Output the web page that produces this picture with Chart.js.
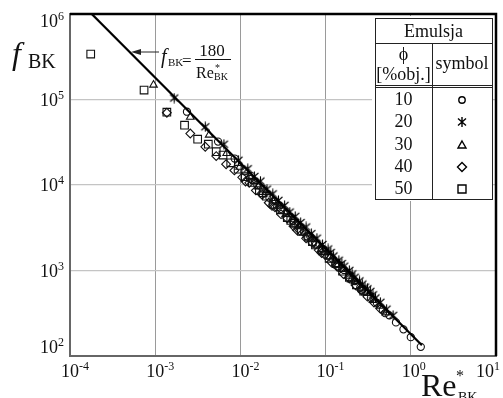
<!DOCTYPE html>
<html>
<head>
<meta charset="utf-8">
<script src="https://cdn.jsdelivr.net/npm/chart.js@4/dist/chart.umd.min.js"></script>
<style>
html, body { margin: 0; padding: 0; background: #fff; }
canvas { display: block; }
</style>
</head>
<body>
<canvas id="chart" width="503" height="398"></canvas>
<script>
// Tick decades
const X_TICKS = [1e-4, 1e-3, 1e-2, 1e-1, 1e0, 1e1];
const Y_TICKS = [1e2, 1e3, 1e4, 1e5, 1e6];

// Correlation line f = 180 / Re (end points)
const lineRe = [1.8e-4, 1.35];
const lineF = [1e6, 133.3];

// phi = 10 %obj. (circles)
const re10 = [0.00236, 0.00547, 0.00857, 0.0112, 0.0135, 0.0158, 0.0186, 0.0219, 0.0255, 0.0298,
    0.035, 0.041, 0.048, 0.056, 0.066, 0.077, 0.09, 0.105, 0.122, 0.142, 0.165, 0.19, 0.22,
    0.255, 0.295, 0.34, 0.4, 0.47, 0.56, 0.67, 0.82, 1.0, 1.31,
    0.013, 0.027, 0.06, 0.13, 0.26, 0.5];
const f10 = [72000, 32200, 20400, 14500, 12700, 10000, 9000, 7070, 6490, 5250,
    4780, 3780, 3410, 2800, 2510, 2010, 1820, 1490, 1360, 1115, 1015, 834, 753,
    628, 567, 476, 419, 348, 299, 247, 205, 166, 128,
    11770, 5530, 2520, 1177, 595, 317];

// phi = 20 %obj. (asterisks)
const re20 = [0.00167, 0.00387, 0.0064, 0.0095, 0.0122, 0.0146, 0.0172, 0.0205, 0.024, 0.028,
    0.033, 0.038, 0.044, 0.051, 0.059, 0.068, 0.079, 0.092, 0.107, 0.115, 0.124, 0.143, 0.155,
    0.165, 0.19, 0.205, 0.22, 0.25, 0.27, 0.29, 0.31, 0.335, 0.36, 0.385, 0.44, 0.52, 0.62];
const f20 = [104000, 48000, 30000, 19500, 15500, 12600, 11100, 8960, 7880, 6620,
    5780, 4830, 4300, 3640, 3230, 2700, 2390, 2015, 1785, 1628, 1480, 1320, 1208,
    1124, 1005, 913, 835, 756, 693, 640, 610, 570, 520, 477, 425, 353, 299];

// phi = 30 %obj. (triangles)
const re30 = [0.000955, 0.00258, 0.0043, 0.0069, 0.0098, 0.0128, 0.0162, 0.0198, 0.024, 0.0285,
    0.034, 0.0405, 0.048, 0.057, 0.068, 0.081, 0.096, 0.113, 0.134, 0.158, 0.186, 0.22,
    0.26, 0.305, 0.36, 0.43, 0.51, 0.0145, 0.044, 0.088, 0.2];
const f30 = [148000, 62400, 38500, 23500, 16200, 12700, 9560, 8180, 6530, 5680,
    4550, 4000, 3260, 2840, 2300, 2000, 1650, 1450, 1180, 1037, 861, 745,
    623, 543, 450, 385, 321, 11000, 3500, 1750, 780];

// phi = 40 %obj. (diamonds)
const re40 = [0.00137, 0.00258, 0.00387, 0.0052, 0.0068, 0.0085, 0.0105, 0.0127, 0.0152, 0.018,
    0.0215, 0.0255, 0.03, 0.0355, 0.042, 0.05, 0.059, 0.07, 0.083, 0.098, 0.116, 0.137,
    0.162, 0.19, 0.225, 0.265, 0.31, 0.37, 0.44, 0.0115, 0.0235, 0.046, 0.09];
const f40 = [70000, 40000, 28000, 21800, 17500, 14800, 12300, 10600, 8640, 7700,
    6200, 5500, 4560, 4060, 3300, 2920, 2380, 2110, 1735, 1525, 1257, 1104,
    911, 805, 672, 584, 494, 423, 356, 11000, 5700, 2980, 1600];

// phi = 50 %obj. (squares)
const re50 = [0.000175, 0.00074, 0.00137, 0.00221, 0.00315, 0.0042, 0.0052, 0.00625, 0.0077, 0.0094,
    0.0114, 0.0138, 0.0167, 0.0202, 0.0245, 0.0295, 0.0355, 0.043, 0.052, 0.063, 0.076,
    0.092, 0.11, 0.132, 0.158, 0.19, 0.23, 0.28, 0.0185, 0.039, 0.07];
const f50 = [340000, 129000, 71000, 50000, 34300, 30000, 24500, 22400, 18200, 15300,
    12500, 10700, 8620, 7400, 5950, 5130, 4160, 3560, 2870, 2460, 1990,
    1700, 1390, 1200, 980, 833, 681, 572, 8100, 3850, 2180];

const SERIF = "'Liberation Serif', 'DejaVu Serif', serif";

function pairs(xs, ys) {
    return xs.map(function (x, i) { return { x: x, y: ys[i] }; });
}

// asterisk marker: vertical bar plus an X
function asteriskImage() {
    var c = document.createElement('canvas');
    c.width = 11; c.height = 11;
    var g = c.getContext('2d');
    g.strokeStyle = '#000';
    g.lineWidth = 1.1;
    g.beginPath();
    g.moveTo(5.5, 0.5); g.lineTo(5.5, 10.5);
    g.moveTo(1.5, 2); g.lineTo(9.5, 9);
    g.moveTo(1.5, 9); g.lineTo(9.5, 2);
    g.stroke();
    return c;
}
const ASTERISK = asteriskImage();

function markerSet(label, data, style, radius) {
    return {
        type: 'scatter',
        label: label,
        data: data,
        pointStyle: style,
        pointRadius: radius,
        pointHoverRadius: radius,
        borderColor: '#111',
        backgroundColor: 'rgba(0,0,0,0)',
        pointBorderWidth: 1.1,
        showLine: false
    };
}

// draw "10" with a superscript exponent
function drawPow(ctx, x, y, exp, align) {
    ctx.font = '18px ' + SERIF;
    var wb = ctx.measureText('10').width;
    ctx.font = '12px ' + SERIF;
    var we = ctx.measureText(exp).width;
    var left = x;
    if (align === 'right') left = x - wb - we;
    ctx.fillStyle = '#111';
    ctx.textBaseline = 'alphabetic';
    ctx.textAlign = 'left';
    ctx.font = '18px ' + SERIF;
    ctx.fillText('10', left, y);
    ctx.font = '12px ' + SERIF;
    ctx.fillText(exp, left + wb, y - 7);
}

function drawMarker(ctx, style, x, y) {
    ctx.save();
    ctx.strokeStyle = '#000';
    ctx.lineWidth = 1.4;
    ctx.beginPath();
    if (style === 'circle') {
        ctx.arc(x, y, 3.2, 0, Math.PI * 2);
    } else if (style === 'triangle') {
        ctx.moveTo(x, y - 4); ctx.lineTo(x + 4, y + 3); ctx.lineTo(x - 4, y + 3); ctx.closePath();
    } else if (style === 'rectRot') {
        ctx.moveTo(x, y - 4.5); ctx.lineTo(x + 4.5, y); ctx.lineTo(x, y + 4.5); ctx.lineTo(x - 4.5, y); ctx.closePath();
    } else if (style === 'rect') {
        ctx.rect(x - 4, y - 4, 8, 8);
    } else {
        ctx.moveTo(x, y - 5); ctx.lineTo(x, y + 5);
        ctx.moveTo(x - 4, y - 3.5); ctx.lineTo(x + 4, y + 3.5);
        ctx.moveTo(x - 4, y + 3.5); ctx.lineTo(x + 4, y - 3.5);
    }
    ctx.stroke();
    ctx.restore();
}

const decorations = {
    id: 'decorations',
    afterDraw: function (chart) {
        var ctx = chart.ctx;
        var a = chart.chartArea;
        var xs = chart.scales.x, ys = chart.scales.y;
        ctx.save();

        // thick top and right frame
        ctx.strokeStyle = '#000';
        ctx.lineWidth = 2.5;
        ctx.beginPath();
        ctx.moveTo(a.left, a.top); ctx.lineTo(a.right, a.top); ctx.lineTo(a.right, a.bottom);
        ctx.stroke();

        // x tick labels
        X_TICKS.forEach(function (v, i) {
            var px = xs.getPixelForValue(v);
            var e = String(Math.round(Math.log10(v)));
            var x0 = px - 9;
            if (i === X_TICKS.length - 1) x0 = px - 20;
            drawPow(ctx, x0, 377, e, 'left');
        });

        // y tick labels
        Y_TICKS.forEach(function (v, i) {
            var py = ys.getPixelForValue(v);
            var e = String(Math.round(Math.log10(v)));
            var yy = py + 6;
            if (i === 0) yy = py - 3;
            if (i === Y_TICKS.length - 1) yy = py + 13;
            drawPow(ctx, 64, yy, e, 'right');
        });

        // y axis title
        ctx.fillStyle = '#111';
        ctx.textAlign = 'left';
        ctx.font = 'italic 32px ' + SERIF;
        ctx.fillText('f', 12, 64);
        ctx.font = '20px ' + SERIF;
        ctx.fillText('BK', 28, 68);

        // x axis title
        ctx.font = '32px ' + SERIF;
        ctx.fillText('Re', 421, 396);
        ctx.font = '16px ' + SERIF;
        ctx.fillText('*', 456, 381);
        ctx.font = '14px ' + SERIF;
        ctx.fillText('BK', 458, 402);

        // annotation: arrow + formula
        ctx.strokeStyle = '#222';
        ctx.lineWidth = 1;
        ctx.beginPath();
        ctx.moveTo(159, 52); ctx.lineTo(138, 52);
        ctx.stroke();
        ctx.fillStyle = '#222';
        ctx.beginPath();
        ctx.moveTo(131, 52); ctx.lineTo(141, 49); ctx.lineTo(141, 55); ctx.closePath();
        ctx.fill();
        ctx.fillStyle = '#111';
        ctx.font = 'italic 20px ' + SERIF;
        ctx.fillText('f', 161, 63);
        ctx.font = '11px ' + SERIF;
        ctx.fillText('BK', 168, 66);
        ctx.font = '17px ' + SERIF;
        ctx.fillText('=', 182, 66);
        ctx.textAlign = 'center';
        ctx.fillText('180', 212, 56);
        ctx.fillRect(195, 59, 36, 1);
        ctx.textAlign = 'left';
        ctx.font = '16px ' + SERIF;
        ctx.fillText('Re', 196, 78);
        ctx.font = '10px ' + SERIF;
        ctx.fillText('*', 215, 71);
        ctx.fillText('BK', 214, 80);

        // legend table
        var L = 375, R = 492, T = 18, B = 199, C = 432;
        ctx.fillStyle = '#fff';
        ctx.fillRect(L - 3, T - 2, R - L + 3, B - T + 4);
        ctx.strokeStyle = '#222';
        ctx.lineWidth = 1;
        ctx.strokeRect(L + 0.5, T + 0.5, R - L, B - T);
        ctx.beginPath();
        ctx.moveTo(L, 43.5); ctx.lineTo(R, 43.5);
        ctx.moveTo(L, 85.5); ctx.lineTo(R, 85.5);
        ctx.moveTo(L, 87.5); ctx.lineTo(R, 87.5);
        ctx.moveTo(C + 0.5, 43.5); ctx.lineTo(C + 0.5, B);
        ctx.stroke();

        ctx.fillStyle = '#111';
        ctx.textAlign = 'center';
        ctx.font = '18px ' + SERIF;
        ctx.fillText('Emulsja', (L + R) / 2, 37);
        ctx.fillText('\u03D5', (L + C) / 2, 60);
        ctx.fillText('[%obj.]', (L + C) / 2, 80);
        ctx.fillText('symbol', (C + R) / 2, 69);

        var rows = ['10', '20', '30', '40', '50'];
        var styles = ['circle', 'star', 'triangle', 'rectRot', 'rect'];
        var rowY = [99, 121, 144, 166, 188];
        rows.forEach(function (r, i) {
            ctx.fillStyle = '#111';
            ctx.font = '18px ' + SERIF;
            ctx.fillText(r, (L + C) / 2, rowY[i] + 6);
            drawMarker(ctx, styles[i], (C + R) / 2, rowY[i] + 1);
        });

        ctx.restore();
    }
};

var ctx = document.getElementById('chart').getContext('2d');
var myChart = new Chart(ctx, {
    data: {
        datasets: [
            {
                type: 'line',
                label: 'f = 180/Re',
                data: pairs(lineRe, lineF),
                borderColor: '#000',
                borderWidth: 2.2,
                pointRadius: 0,
                fill: false,
                order: 0
            },
            markerSet('10', pairs(re10, f10), 'circle', 3.6),
            markerSet('20', pairs(re20, f20), ASTERISK, 4),
            markerSet('30', pairs(re30, f30), 'triangle', 4.4),
            markerSet('40', pairs(re40, f40), 'rectRot', 4.4),
            markerSet('50', pairs(re50, f50), 'rect', 5.4)
        ]
    },
    options: {
        responsive: false,
        animation: false,
        layout: { padding: { left: 70, right: 7, top: 14, bottom: 42 } },
        plugins: {
            legend: { display: false },
            tooltip: { enabled: false }
        },
        scales: {
            x: {
                type: 'logarithmic',
                min: 1e-4,
                max: 10,
                afterBuildTicks: function (scale) {
                    scale.ticks = X_TICKS.map(function (v) { return { value: v }; });
                },
                ticks: { display: false },
                grid: { color: '#9a9a9a', lineWidth: 1, drawTicks: false, tickLength: 0 },
                border: { display: true, color: '#666', width: 2 }
            },
            y: {
                type: 'logarithmic',
                min: 1e2,
                max: 1e6,
                afterBuildTicks: function (scale) {
                    scale.ticks = Y_TICKS.map(function (v) { return { value: v }; });
                },
                ticks: { display: false },
                grid: { color: '#c4c4c4', lineWidth: 1.3, drawTicks: false, tickLength: 0 },
                border: { display: true, color: '#666', width: 2 }
            }
        }
    },
    plugins: [decorations]
});
</script>
</body>
</html>
